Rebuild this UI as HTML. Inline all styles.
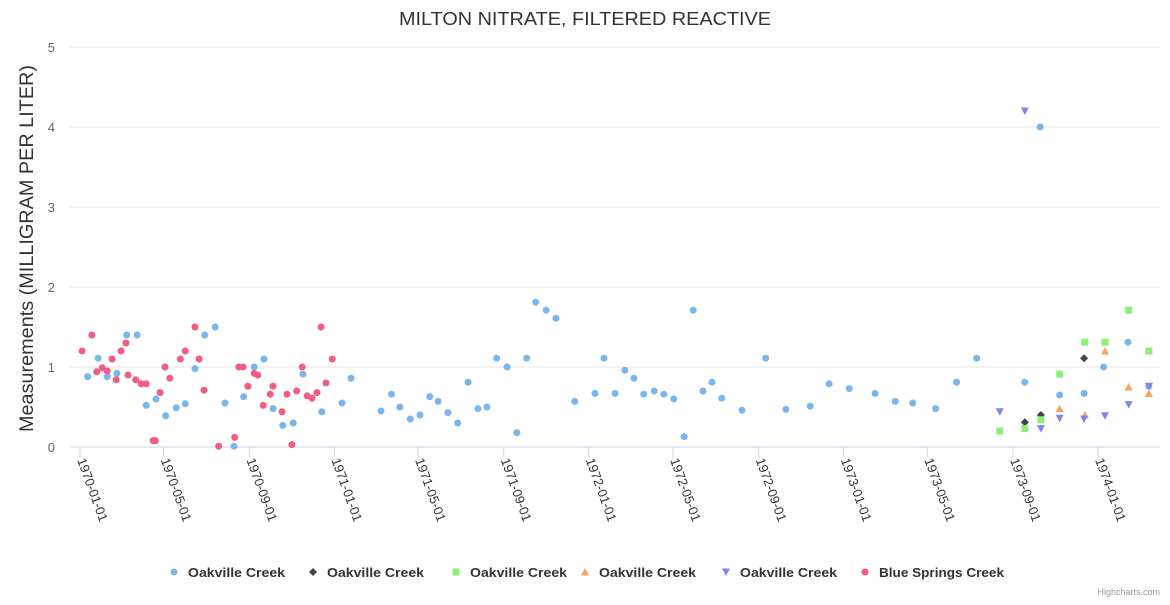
<!DOCTYPE html>
<html><head><meta charset="utf-8"><style>
body{margin:0;background:#fff;font-family:"Liberation Sans",sans-serif}
svg text{font-family:"Liberation Sans",sans-serif}
</style></head><body>
<svg id="c" width="1170" height="600"></svg>
<script>
// Data: x = days since 1970-01-01, y = mg/L
const oak1Days=[11,26,39,53,67,82,95,109,123,138,151,165,179,194,208,221,235,250,264,277,291,306,320,347,376,389,432,447,459,474,488,502,514,528,542,557,571,584,598,613,627,641,654,669,683,710,739,752,768,782,795,809,824,838,852,867,880,894,907,921,950,984,1013,1048,1075,1104,1141,1170,1195,1228,1258,1287,1356,1378,1406,1441,1469,1504,1534];
const oak1Vals=[0.88,1.11,0.88,0.92,1.4,1.4,0.52,0.6,0.39,0.49,0.54,0.98,1.4,1.5,0.55,0.01,0.63,1.0,1.1,0.48,0.27,0.3,0.91,0.44,0.55,0.86,0.45,0.66,0.5,0.35,0.4,0.63,0.57,0.43,0.3,0.81,0.48,0.5,1.11,1.0,0.18,1.11,1.81,1.71,1.61,0.57,0.67,1.11,0.67,0.96,0.86,0.66,0.7,0.66,0.6,0.13,1.71,0.7,0.81,0.61,0.46,1.11,0.47,0.51,0.79,0.73,0.67,0.57,0.55,0.48,0.81,1.11,0.81,4.0,0.65,0.67,1.0,1.31,0.76];
const oak2Days=[1356,1379,1441];
const oak2Vals=[0.31,0.4,1.11];
const oak3Days=[1320,1356,1379,1406,1442,1471,1505,1534];
const oak3Vals=[0.2,0.23,0.34,0.91,1.31,1.31,1.71,1.2];
const oak4Days=[1406,1442,1471,1505,1534];
const oak4Vals=[0.48,0.4,1.2,0.75,0.67];
const oak5Days=[1320,1356,1379,1406,1441,1471,1505,1534];
const oak5Vals=[0.44,4.2,0.23,0.36,0.35,0.39,0.53,0.76];
const bsDays=[3,17,24,32,39,46,52,59,66,69,80,88,95,105,108,115,122,129,144,151,165,171,178,199,222,228,234,241,250,255,263,273,277,290,297,304,311,319,326,333,340,346,353,362];
const bsVals=[1.2,1.4,0.94,0.99,0.95,1.1,0.84,1.2,1.3,0.9,0.84,0.79,0.79,0.08,0.08,0.68,1.0,0.86,1.1,1.2,1.5,1.1,0.71,0.01,0.12,1.0,1.0,0.76,0.92,0.9,0.52,0.66,0.76,0.44,0.66,0.03,0.7,1.0,0.64,0.61,0.68,1.5,0.8,1.1];
const yTicks=[0,1,2,3,4,5];
const xTickLabels=["1970-01-01","1970-05-01","1970-09-01","1971-01-01","1971-05-01","1971-09-01","1972-01-01","1972-05-01","1972-09-01","1973-01-01","1973-05-01","1973-09-01","1974-01-01"];

const NS="http://www.w3.org/2000/svg";
const svg=document.getElementById('c');
const L=70,R=1160,T=47,B=447;
const X0=80,PXD=0.6968;
const xs=d=>X0+d*PXD;
const ys=v=>B-(v/5)*(B-T);
const dayOf=s=>(Date.parse(s+"T00:00:00Z")-Date.parse("1970-01-01T00:00:00Z"))/86400000;
function mk(tag,attrs,parent){const e=document.createElementNS(NS,tag);for(const k in attrs)e.setAttribute(k,attrs[k]);(parent||svg).appendChild(e);return e;}

const title=mk('text',{x:399,y:25,'font-size':18,fill:'#333',textLength:372,lengthAdjust:'spacingAndGlyphs'});
title.textContent="MILTON NITRATE, FILTERED REACTIVE";



yTicks.forEach(v=>{
  const g=mk('line',{x1:L,x2:R,y1:ys(v),y2:ys(v),stroke:v===0?'#ccd6eb':'#e6e6e6','stroke-width':1});
  
  
  const t=mk('text',{x:55,y:ys(v)+5,'text-anchor':'end','font-size':13,fill:'#666'});
  t.textContent=v;
  
  
});
const yt=mk('text',{transform:'translate(33,432) rotate(-90)','font-size':19,fill:'#333',textLength:367,lengthAdjust:'spacingAndGlyphs'});
yt.textContent="Measurements (MILLIGRAM PER LITER)";



xTickLabels.forEach(s=>{
  const x=xs(dayOf(s));
  const tk=mk('line',{x1:x,x2:x,y1:B,y2:B+10,stroke:'#ccd6eb'});
  
  
  const t=mk('text',{transform:`translate(${x-3},${B+13}) rotate(70)`,'font-size':13,fill:'#333'});
  t.textContent=s;
  
  
});

function marker(shape,color,x,y,parent){
  let e;
  if(shape==='circle')e=mk('circle',{cx:x,cy:y,r:3.5,fill:color},parent);
  else if(shape==='diamond')e=mk('path',{d:`M${x} ${y-4}L${x+4} ${y}L${x} ${y+4}L${x-4} ${y}Z`,fill:color},parent);
  else if(shape==='square')e=mk('rect',{x:x-3.5,y:y-3.5,width:7,height:7,fill:color},parent);
  else if(shape==='tri')e=mk('path',{d:`M${x} ${y-4}L${x+4} ${y+3.5}L${x-4} ${y+3.5}Z`,fill:color},parent);
  else e=mk('path',{d:`M${x} ${y+4}L${x+4} ${y-3.5}L${x-4} ${y-3.5}Z`,fill:color},parent);
  return e;
}
const series=[
  {name:'Oakville Creek',days:oak1Days,vals:oak1Vals,shape:'circle',color:'#7cb5ec',key:'oakville-1'},
  {name:'Oakville Creek',days:oak2Days,vals:oak2Vals,shape:'diamond',color:'#434348',key:'oakville-2'},
  {name:'Oakville Creek',days:oak3Days,vals:oak3Vals,shape:'square',color:'#90ed7d',key:'oakville-3'},
  {name:'Oakville Creek',days:oak4Days,vals:oak4Vals,shape:'tri',color:'#f7a35c',key:'oakville-4'},
  {name:'Oakville Creek',days:oak5Days,vals:oak5Vals,shape:'tridown',color:'#8085e9',key:'oakville-5'},
  {name:'Blue Springs Creek',days:bsDays,vals:bsVals,shape:'circle',color:'#f15c80',key:'blue-springs'}
];
series.forEach(s=>{
  const g=mk('g',{});
  
  
  s.days.forEach((d,i)=>{
    const m=marker(s.shape,s.color,xs(d),ys(s.vals[i]),g);
    
    
  });
});
const legX=[174,313,456,585,726,865];
series.forEach((s,i)=>{
  const g=mk('g',{});
  
  
  marker(s.shape,s.color,legX[i],572,g);
  const t=mk('text',{x:legX[i]+14,y:577,'font-size':13,'font-weight':'bold',fill:'#333',textLength:s.name.length>14?125:97,lengthAdjust:'spacingAndGlyphs'},g);
  t.textContent=s.name;
});
const cr=mk('text',{x:1160,y:595,'text-anchor':'end','font-size':9,fill:'#999'});
cr.textContent="Highcharts.com";


</script>
</body></html>
